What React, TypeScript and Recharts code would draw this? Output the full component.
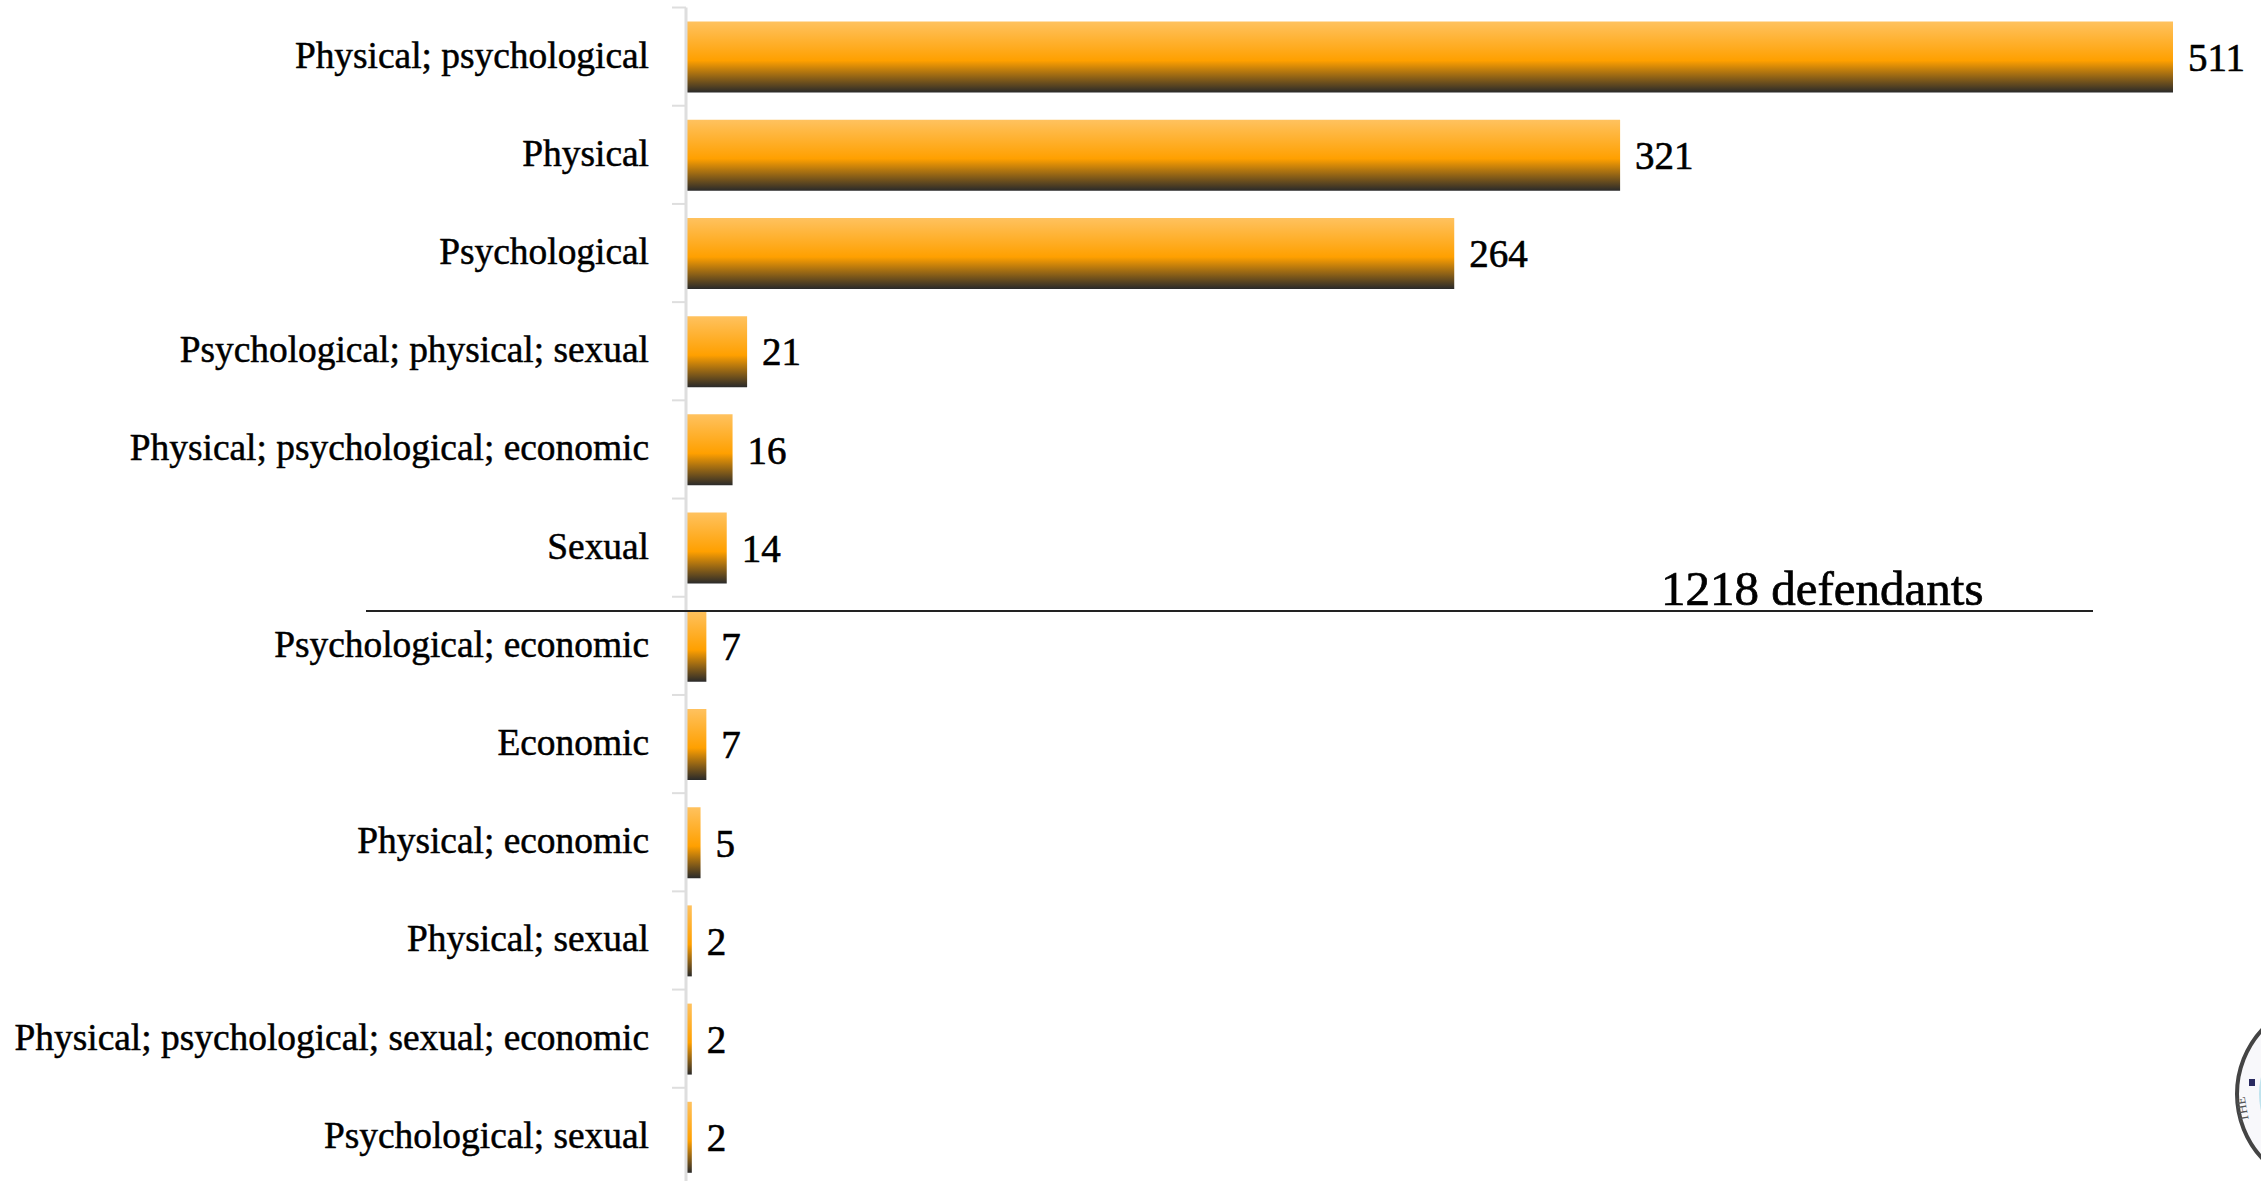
import React from 'react';
import { BarChart, Bar, XAxis, YAxis, LabelList } from 'recharts';

const categories = [
  'Physical; psychological',
  'Physical',
  'Psychological',
  'Psychological; physical; sexual',
  'Physical; psychological; economic',
  'Sexual',
  'Psychological; economic',
  'Economic',
  'Physical; economic',
  'Physical; sexual',
  'Physical; psychological; sexual; economic',
  'Psychological; sexual',
];
const defendants = [511, 321, 264, 21, 16, 14, 7, 7, 5, 2, 2, 2];

const data = categories.map((name, i) => ({ name, defendants: defendants[i] }));

const FONT = '"Liberation Serif", serif';
const BAND = 98.2;

// ticks sit on the band boundaries, the label stays in the middle
const CategoryTick = ({ x, y, payload }: any) => (
  <g>
    <line x1={x - 14} x2={x} y1={y - BAND / 2} y2={y - BAND / 2} stroke="#dedede" strokeWidth={2} />
    <text x={x - 37} y={y + 11} textAnchor="end" fontFamily={FONT} fontSize={37.4} fill="#000" stroke="#000" strokeWidth={0.5}>
      {payload.value}
    </text>
  </g>
);

export default function App() {
  return (
    <div style={{ position: 'absolute', left: 0, top: 0, width: 2261, height: 1181, overflow: 'hidden', background: '#fff' }}>
      <BarChart
        width={2261}
        height={1186}
        data={data}
        layout="vertical"
        margin={{ top: 7.5, right: 88, bottom: 0, left: 0 }}
      >
        <defs>
          <linearGradient id="barFill" x1="0" y1="0" x2="0" y2="1">
            <stop offset="0" stopColor="#ffc25f" />
            <stop offset="0.55" stopColor="#ffa000" />
            <stop offset="1" stopColor="#2a2a2a" />
          </linearGradient>
        </defs>
        <XAxis type="number" domain={[0, 511]} hide />
        <YAxis
          type="category"
          dataKey="name"
          width={686}
          interval={0}
          tickLine={false}
          tickSize={0}
          tickMargin={0}
          axisLine={{ stroke: '#dedede', strokeWidth: 3 }}
          tick={<CategoryTick />}
        />
        <Bar dataKey="defendants" fill="url(#barFill)" barSize={71} isAnimationActive={false}>
          <LabelList
            dataKey="defendants"
            position="right"
            offset={15}
            fontFamily={FONT}
            fontSize={39}
            fill="#000"
            stroke="#000"
            strokeWidth={0.6}
          />
        </Bar>
      </BarChart>
      <svg width={2261} height={1181} style={{ position: 'absolute', left: 0, top: 0 }}>
        <line x1={366} x2={2093} y1={611} y2={611} stroke="#222" strokeWidth={2} />
        <text x={1661} y={605} fontFamily={FONT} fontSize={49} fill="#000" stroke="#000" strokeWidth={0.7}>1218 defendants</text>
        <circle cx={2332} cy={1094} r={95} fill="#f8f8fb" stroke="#444" strokeWidth={4} />
        <rect x={2249} y={1079} width={6} height={7} fill="#2a2a60" />
        <circle cx={2332} cy={1094} r={73} fill="#bfe3ee" />
        <text x={0} y={0} transform="translate(2249,1121) rotate(-100)" fontFamily={FONT} fontSize={13} fill="#555">THE</text>
      </svg>
    </div>
  );
}
